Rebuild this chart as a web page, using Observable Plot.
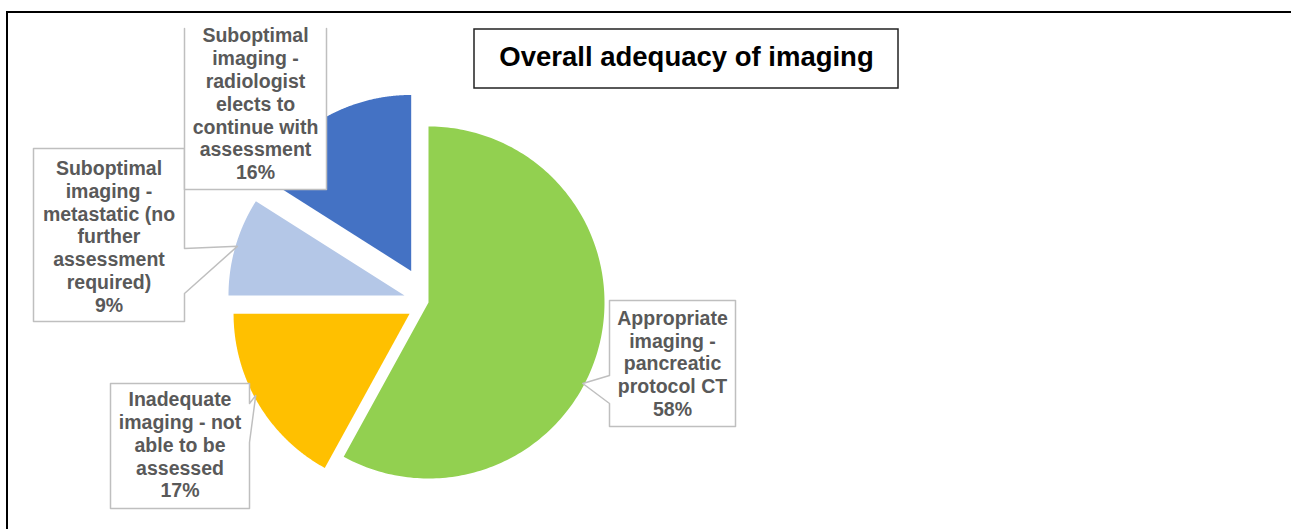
<!DOCTYPE html>
<html><head><meta charset="utf-8">
<script src="https://cdn.jsdelivr.net/npm/d3@7"></script>
<script src="https://cdn.jsdelivr.net/npm/@observablehq/plot@0.6"></script>
<style>
html,body{margin:0;padding:0;background:#fff;}
#wrap{position:relative;width:1291px;height:529px;overflow:hidden;}
#frame{position:absolute;left:6px;top:11px;width:1400px;height:700px;border-top:2px solid #000;border-left:2px solid #000;pointer-events:none;}
</style></head><body>
<div id="wrap"><div id="chart"></div><div id="frame"></div></div>
<script>
// ---- data ----
const categories = [
  "Appropriate\nimaging -\npancreatic\nprotocol CT",
  "Inadequate\nimaging - not\nable to be\nassessed",
  "Suboptimal\nimaging -\nmetastatic (no\nfurther\nassessment\nrequired)",
  "Suboptimal\nimaging -\nradiologist\nelects to\ncontinue with\nassessment"
];
const percents = [58, 17, 9, 16];
const colors = ["#92D050", "#FFC000", "#B4C7E7", "#4472C4"];
const chartTitle = "Overall adequacy of imaging";

// ---- layout (pixels) ----
const W = 1291, H = 529;
const PIE = {cx: 428, cy: 302, r: 176};
const explode = [0, 22, 25, 36];
const boxes = [
  {x1: 609, x2: 735, y1: 300, y2: 426, side: "left",  b1: 375, b2: 403, tip: 117.7, tx: 672,   ty: 362.5},
  {x1: 110, x2: 249, y1: 383, y2: 508, side: "right", b1: 403, b2: 442, tip: 242,   tx: 179.5, ty: 444},
  {x1: 33,  x2: 184, y1: 148, y2: 321, side: "right", b1: 248, b2: 293, tip: 286.4, tx: 108.5, ty: 235.5},
  {x1: 184, x2: 326, y1: 28,  y2: 189, side: "none",  tx: 255, ty: 103}
];
const titleBox = {x1: 474, x2: 898, y1: 29, y2: 88};

// ---- geometry from values ----
const arcs = d3.pie().sort(null).startAngle(0).endAngle(2 * Math.PI)(percents);
const apexes = arcs.map((a, i) => {
  const mid = (a.startAngle + a.endAngle) / 2;
  return {x: PIE.cx + explode[i] * Math.sin(mid), y: PIE.cy - explode[i] * Math.cos(mid)};
});
const slicePts = [];
arcs.forEach((a, i) => {
  const ap = apexes[i], cat = categories[i];
  slicePts.push({k: cat, x: ap.x, y: ap.y});
  const n = 200;
  for (let j = 0; j <= n; j++) {
    const t = a.startAngle + (a.endAngle - a.startAngle) * j / n;
    slicePts.push({k: cat, x: ap.x + PIE.r * Math.sin(t), y: ap.y - PIE.r * Math.cos(t)});
  }
  slicePts.push({k: cat, x: ap.x, y: ap.y});
});

// callout shapes
const calloutPts = [];
boxes.forEach((b, i) => {
  const id = "c" + i;
  let pts;
  if (b.side === "none") {
    pts = [[b.x1, b.y1], [b.x1, b.y2], [b.x2, b.y2], [b.x2, b.y1]];
  } else {
    const ap = apexes[i], t = b.tip * Math.PI / 180;
    const tip = [ap.x + PIE.r * 0.99 * Math.sin(t), ap.y - PIE.r * 0.99 * Math.cos(t)];
    if (b.side === "right") {
      pts = [[b.x1, b.y1], [b.x2, b.y1], [b.x2, b.b1], tip, [b.x2, b.b2], [b.x2, b.y2], [b.x1, b.y2], [b.x1, b.y1]];
    } else {
      pts = [[b.x1, b.y1], [b.x2, b.y1], [b.x2, b.y2], [b.x1, b.y2], [b.x1, b.b2], tip, [b.x1, b.b1], [b.x1, b.y1]];
    }
  }
  pts.forEach(p => calloutPts.push({k: id, x: p[0], y: p[1]}));
});

const labels = categories.map((c, i) => ({text: c + "\n" + percents[i] + "%", x: boxes[i].tx, y: boxes[i].ty}));

const plot = Plot.plot({
  width: W, height: H,
  margin: 0,
  x: {domain: [0, W], axis: null},
  y: {domain: [H, 0], axis: null},
  color: {domain: categories, range: colors},
  style: {background: "white", fontFamily: "'Liberation Sans', Arial, sans-serif", overflow: "hidden"},
  marks: [
    Plot.line(slicePts, {x: "x", y: "y", z: "k", fill: "k", stroke: "none", curve: "linear"}),
    Plot.line(calloutPts, {x: "x", y: "y", z: "k", fill: "white", stroke: "#BFBFBF", strokeWidth: 1.5, curve: "linear"}),
    Plot.text(labels, {x: "x", y: "y", text: "text", fontSize: 19.5, fontWeight: "bold", fill: "#595959",
      lineHeight: 1.17, lineAnchor: "middle", textAnchor: "middle"}),
    Plot.rect([titleBox], {x1: "x1", x2: "x2", y1: "y1", y2: "y2", fill: "white", stroke: "#222", strokeWidth: 1.5}),
    Plot.text([chartTitle], {x: (titleBox.x1 + titleBox.x2) / 2, y: (titleBox.y1 + titleBox.y2) / 2 - 2, text: d => d,
      fontSize: 27.5, fontWeight: "bold", fill: "#000", lineAnchor: "middle", textAnchor: "middle"})
  ]
});
document.getElementById("chart").appendChild(plot);
</script>
</body></html>
